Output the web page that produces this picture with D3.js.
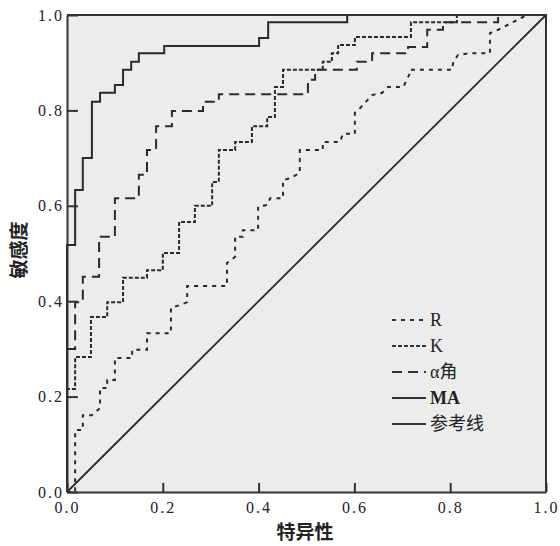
<!DOCTYPE html>
<html>
<head>
<meta charset="utf-8">
<script src="https://cdn.jsdelivr.net/npm/d3@7"></script>
<style>
  body { margin: 0; background: #fff; }
  .title { font-family: "Noto Sans CJK SC", sans-serif; font-weight: bold; font-size: 19px; fill: #222; }
  .leg { font-family: "Liberation Serif", "Noto Sans CJK SC", serif; font-size: 18px; fill: #222; }
</style>
</head>
<body>
<div id="chart"></div>
<script>
var margin = {top: 15, right: 14, bottom: 54, left: 67},
    w = 560 - margin.left - margin.right,
    h = 546 - margin.top - margin.bottom;

var ticks = [0, 0.2, 0.4, 0.6, 0.8, 1.0];
var seriesNames = ["R", "K", "α角", "MA", "参考线"];

// [1 - 特异性, 敏感度]
var rocR = [[0,0],[0.017,0],[0.017,0.130],[0.033,0.130],[0.033,0.161],[0.052,0.161],[0.069,0.176],[0.069,0.218],
  [0.084,0.218],[0.084,0.235],[0.100,0.235],[0.100,0.281],[0.136,0.281],[0.136,0.298],[0.167,0.298],[0.167,0.333],
  [0.217,0.333],[0.217,0.386],[0.236,0.392],[0.251,0.398],[0.251,0.432],[0.334,0.432],[0.334,0.480],[0.351,0.493],
  [0.351,0.535],[0.367,0.535],[0.367,0.549],[0.399,0.549],[0.399,0.598],[0.418,0.602],[0.424,0.616],[0.451,0.616],
  [0.451,0.654],[0.466,0.658],[0.486,0.669],[0.486,0.717],[0.534,0.717],[0.534,0.734],[0.570,0.734],[0.576,0.751],
  [0.601,0.751],[0.601,0.795],[0.612,0.805],[0.622,0.816],[0.637,0.832],[0.658,0.837],[0.670,0.849],[0.702,0.849],
  [0.716,0.878],[0.716,0.885],[0.804,0.885],[0.806,0.899],[0.816,0.916],[0.841,0.920],[0.883,0.920],[0.883,0.962],
  [0.900,0.969],[0.931,0.985],[0.960,1],[1,1]];
var rocK = [[0,0],[0,0.216],[0.017,0.216],[0.017,0.283],[0.050,0.283],[0.050,0.367],[0.084,0.367],[0.084,0.398],
  [0.117,0.398],[0.117,0.449],[0.167,0.449],[0.167,0.465],[0.200,0.465],[0.200,0.501],[0.234,0.501],[0.234,0.566],
  [0.267,0.566],[0.267,0.600],[0.303,0.600],[0.303,0.650],[0.317,0.650],[0.317,0.717],[0.351,0.717],[0.351,0.734],
  [0.386,0.734],[0.386,0.767],[0.418,0.767],[0.418,0.786],[0.434,0.786],[0.434,0.849],[0.451,0.849],[0.451,0.885],
  [0.534,0.885],[0.534,0.902],[0.553,0.902],[0.553,0.920],[0.566,0.920],[0.566,0.937],[0.601,0.937],[0.601,0.954],
  [0.718,0.954],[0.718,0.985],[0.814,0.985],[0.814,1],[1,1]];
var rocAlpha = [[0,0],[0,0.300],[0.017,0.300],[0.017,0.398],[0.033,0.398],[0.033,0.451],[0.067,0.451],[0.067,0.535],
  [0.100,0.535],[0.100,0.616],[0.150,0.616],[0.150,0.665],[0.167,0.665],[0.167,0.717],[0.186,0.717],[0.186,0.767],
  [0.219,0.767],[0.219,0.799],[0.284,0.799],[0.284,0.818],[0.317,0.818],[0.317,0.834],[0.503,0.834],[0.503,0.864],
  [0.518,0.864],[0.518,0.885],[0.605,0.885],[0.605,0.902],[0.637,0.902],[0.637,0.920],[0.712,0.920],[0.712,0.933],
  [0.752,0.933],[0.752,0.969],[0.785,0.969],[0.785,0.985],[0.900,0.985],[0.900,1],[1,1]];
var rocMA = [[0,0],[0,0.518],[0.017,0.518],[0.017,0.633],[0.033,0.633],[0.033,0.700],[0.052,0.700],[0.052,0.818],
  [0.069,0.818],[0.069,0.837],[0.100,0.837],[0.100,0.853],[0.117,0.853],[0.117,0.885],[0.134,0.885],[0.134,0.902],
  [0.150,0.902],[0.150,0.920],[0.203,0.920],[0.203,0.935],[0.401,0.935],[0.401,0.952],[0.420,0.952],[0.420,0.985],
  [0.585,0.985],[0.585,1],[1,1]];
var refLine = [[0,0],[1,1]];

var dashes = ["4,5", "4,2", "10,6", null, null];
var seriesData = [rocR, rocK, rocAlpha, rocMA, refLine];

var svg = d3.select("#chart")
  .append("svg")
  .attr("width", w + margin.left + margin.right)
  .attr("height", h + margin.top + margin.bottom);
var g = svg.append("g")
  .attr("transform", "translate(" + margin.left + "," + margin.top + ")");

var xScale = d3.scaleLinear().domain([0, 1]).range([0, w]);
var yScale = d3.scaleLinear().domain([0, 1]).range([h, 0]);

/*Background*/
g.append("rect")
  .attr("width", w).attr("height", h)
  .attr("fill", "#ececec");

/*Curves*/
var line = d3.line()
  .x(function(d) { return xScale(d[0]); })
  .y(function(d) { return yScale(d[1]); });

seriesData.forEach(function(s, i) {
  g.append("path")
    .datum(s)
    .attr("d", line)
    .attr("fill", "none")
    .attr("stroke", "#2a2a2a")
    .attr("stroke-width", i == 4 ? 1.8 : 2)
    .attr("stroke-dasharray", dashes[i]);
});

/*Frame*/
g.append("path")
  .attr("d", "M0,0H" + w + "V" + h)
  .attr("fill", "none")
  .attr("stroke", "#333")
  .attr("stroke-width", 2);

/*Axes*/
var xAxis = d3.axisBottom(xScale)
  .tickValues(ticks)
  .tickFormat(d3.format(".1f"))
  .tickSizeInner(-9).tickSizeOuter(0).tickPadding(10);
var yAxis = d3.axisLeft(yScale)
  .tickValues(ticks)
  .tickFormat(d3.format(".1f"))
  .tickSizeInner(-11).tickSizeOuter(0).tickPadding(3);

g.append("g")
  .attr("class", "axis")
  .attr("transform", "translate(0," + h + ")")
  .call(xAxis);
g.append("g")
  .attr("class", "axis")
  .call(yAxis);
g.selectAll(".axis")
  .attr("font-family", "Liberation Serif")
  .attr("font-size", 16);
g.selectAll(".tick text")
  .attr("fill", "#222")
  .style("letter-spacing", "2px");
g.selectAll(".domain, .tick line")
  .attr("stroke", "#333")
  .attr("stroke-width", 2);

/*Titles*/
svg.append("text")
  .attr("class", "title")
  .attr("text-anchor", "middle")
  .attr("transform", "translate(26,250) rotate(-90)")
  .text("敏感度");
svg.append("text")
  .attr("class", "title")
  .attr("text-anchor", "middle")
  .attr("x", 305).attr("y", 539)
  .text("特异性");

/*Legend*/
var legend = svg.append("g").attr("transform", "translate(392,320)");
seriesNames.forEach(function(name, i) {
  var row = legend.append("g").attr("transform", "translate(0," + (i * 26) + ")");
  row.append("line")
    .attr("x1", 0).attr("x2", 34)
    .attr("stroke", "#333")
    .attr("stroke-width", 2)
    .attr("stroke-dasharray", dashes[i]);
  row.append("text")
    .attr("class", "leg")
    .attr("x", 38).attr("dy", "0.35em")
    .style("font-weight", name == "MA" ? "bold" : "normal")
    .text(name);
});
</script>
</body>
</html>
